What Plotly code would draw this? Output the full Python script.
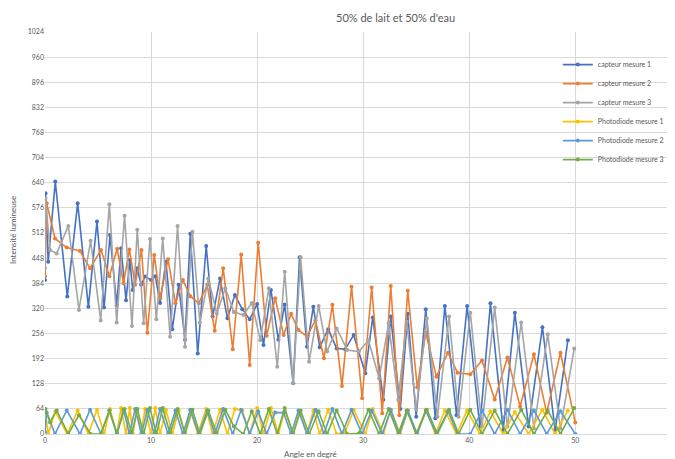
import plotly.graph_objects as go

# ---- data ----
c1_x = [0.0, 0.05, 0.3, 0.97, 2.1, 3.08, 4.09, 4.9, 5.57, 6.13, 6.76, 7.17, 7.64, 8.0, 8.27, 8.7, 9.06, 9.43, 10.0, 10.4,
        10.85, 11.4, 12.0, 12.6, 13.2, 13.7, 14.4, 15.2, 15.8, 16.5, 17.2, 17.9, 18.6, 19.3, 20.0, 20.6, 21.3, 22.0, 22.6, 23.4,
        24.0, 24.7, 25.3, 25.9, 26.7, 27.5, 28.3, 29.1, 30.2, 30.9, 31.9, 32.6, 33.5, 34.2, 35.0, 35.9, 36.8, 37.7, 38.8, 39.8,
        41.0, 42.0, 43.2, 44.3, 45.6, 46.9, 48.1, 49.3]
c1_y = [392, 613, 439, 643, 350, 588, 324, 541, 322, 507, 328, 473, 341, 443, 367, 422, 380, 401, 392, 402,
        334, 439, 267, 380, 240, 510, 205, 479, 299, 396, 295, 354, 318, 292, 331, 227, 367, 240, 330, 129,
        450, 222, 324, 221, 267, 218, 216, 252, 155, 297, 87, 299, 64, 306, 44, 318, 40, 326, 48, 326,
        19, 333, 10, 309, 19, 272, 10, 239]

c2_x = [0.0, 0.16, 0.94, 2.05, 3.3, 4.25, 5.28, 6.07, 6.8, 7.4, 7.96, 8.5, 9.1, 9.65, 10.3, 10.85, 11.6, 12.3, 13.0, 13.7,
        14.5, 15.3, 16.0, 16.8, 17.7, 18.5, 19.3, 20.1, 20.9, 21.7, 22.5, 23.2, 23.9, 24.7, 25.5, 26.3, 27.1, 28.0, 28.9, 29.9,
        30.8, 31.8, 32.6, 33.4, 34.2, 35.1, 35.9, 36.9, 38.0, 38.9, 40.1, 41.2, 42.4, 43.6, 44.8, 46.1, 47.3, 48.6, 50.0]
c2_y = [401, 588, 498, 475, 466, 422, 469, 402, 472, 384, 470, 380, 469, 258, 456, 346, 445, 333, 392, 351,
        333, 380, 263, 422, 216, 457, 176, 487, 250, 346, 252, 306, 265, 248, 290, 193, 329, 122, 375, 91,
        373, 53, 377, 48, 365, 119, 258, 146, 207, 156, 152, 187, 88, 195, 70, 203, 54, 207, 29]

c3_x = [0.0, 0.05, 0.47, 1.1, 2.2, 3.2, 4.3, 5.25, 6.07, 6.76, 7.5, 8.2, 8.7, 9.3, 9.9, 10.5, 11.1, 11.8, 12.5, 13.2,
        13.9, 14.6, 15.4, 16.2, 17.0, 17.8, 18.7, 19.5, 20.3, 21.1, 21.9, 22.6, 23.4, 24.1, 24.9, 25.8, 26.6, 27.5, 28.5, 29.6,
        30.5, 31.5, 32.4, 33.3, 34.1, 35.0, 36.0, 37.0, 38.1, 39.0, 40.1, 41.2, 42.4, 43.6, 44.9, 46.1, 47.4, 48.6, 49.9]
c3_y = [422, 600, 469, 460, 530, 316, 492, 289, 585, 284, 556, 275, 520, 282, 497, 292, 498, 248, 530, 222,
        515, 284, 396, 307, 371, 311, 303, 334, 239, 371, 171, 413, 129, 450, 184, 326, 210, 269, 214, 210,
        239, 142, 282, 87, 286, 62, 295, 44, 299, 44, 309, 19, 322, 19, 284, 14, 254, 14, 218]

p1_y = [28, 55, 0, 57, 0, 60, 0, 62, 0, 64, 0, 66, 0, 66, 0, 64, 0, 64, 0, 66,
        0, 62, 0, 60, 0, 62, 0, 64, 0, 62, 0, 64, 60, 0, 66, 0, 66, 0, 60, 0,
        58, 0, 60, 0, 62, 0, 4, 62, 0, 64, 0, 62, 0, 60, 0, 62, 0, 60, 0, 60,
        0, 58, 0, 56, 0, 62, 0, 60]
p2_y = [5, 55, 0, 60, 0, 62, 0, 60, 0, 62, 0, 64, 0, 62, 0, 64, 0, 60, 0, 62,
        0, 60, 0, 64, 0, 62, 0, 58, 0, 55, 54, 0, 60, 0, 62, 0, 64, 0, 62, 0,
        60, 0, 62, 0, 60, 0, 60, 0, 58, 0, 0, 60, 0, 62, 0, 60, 0, 58, 0]
p3_y = [62, 64, 30, 60, 0, 48, 0, 0, 60, 0, 64, 0, 64, 0, 66, 0, 66, 0, 64, 0,
        62, 0, 60, 0, 62, 20, 0, 58, 0, 64, 0, 66, 0, 60, 0, 58, 0, 60, 0, 2,
        62, 0, 64, 0, 60, 0, 62, 0, 62, 0, 62, 0, 60, 0, 62, 0, 60, 0, 66]

names = ["capteur mesure 1", "capteur mesure 2", "capteur mesure 3",
         "Photodiode mesure 1", "Photodiode mesure 2", "Photodiode mesure 3"]
colors = ["#4472C4", "#ED7D31", "#A5A5A5", "#FFC000", "#5B9BD5", "#70AD47"]
xs = [c1_x, c2_x, c3_x, c1_x, c2_x, c3_x]
ys = [c1_y, c2_y, c3_y, p1_y, p2_y, p3_y]

y_ticks = list(range(0, 1025, 64))
x_ticks = [0, 10, 20, 30, 40, 50, 60]

fig = go.Figure()
for n, c, x, y in zip(names, colors, xs, ys):
    fig.add_trace(go.Scatter(x=x, y=y, name=n, mode="lines+markers",
                             line=dict(color=c, width=1.6),
                             marker=dict(color=c, size=4)))

font = "Lato, 'Liberation Sans', sans-serif"
fig.update_layout(
    width=667, height=451,
    margin=dict(l=37, r=0, t=24, b=25),
    paper_bgcolor="white", plot_bgcolor="white",
    font=dict(family=font, color="#595959", size=7),
    showlegend=True,
    legend=dict(x=0.814, y=0.955, xanchor="left", yanchor="top",
                font=dict(size=7, color="#595959"), itemwidth=30,
                bgcolor="rgba(255,255,255,0)", tracegroupgap=0),
    xaxis=dict(range=[0, 59.4], tickvals=x_ticks, showgrid=True, gridcolor="#D9D9D9",
               gridwidth=1, zeroline=False, showline=True, linecolor="#D9D9D9",
               ticks="", tickfont=dict(size=7, color="#595959")),
    yaxis=dict(range=[0, 1024], tickvals=y_ticks, showgrid=True, gridcolor="#D9D9D9",
               gridwidth=1, zeroline=False, showline=False, ticks="",
               tickfont=dict(size=7, color="#595959")),
    annotations=[
        dict(text="50% de lait et 50% d'eau", xref="paper", yref="paper",
             x=(395 - 45) / 630, y=(434 - 17) / 402, showarrow=False,
             font=dict(size=11, color="#595959"), xanchor="center", yanchor="middle"),
        dict(text="Angle en degré", xref="paper", yref="paper",
             x=(310 - 45) / 630, y=(434 - 454) / 402, showarrow=False,
             font=dict(size=8, color="#595959"), xanchor="center", yanchor="middle"),
        dict(text="Intensité lumineuse", xref="paper", yref="paper",
             x=(13 - 45) / 630, y=(434 - 230) / 402, showarrow=False, textangle=-90,
             font=dict(size=8, color="#595959"), xanchor="center", yanchor="middle"),
    ],
)

fig.write_html("out.html")
